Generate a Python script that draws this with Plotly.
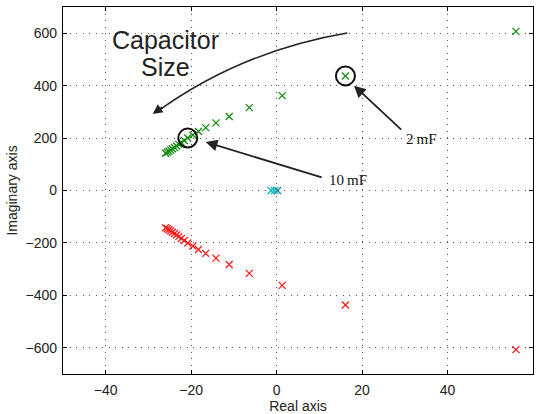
import plotly.graph_objects as go

# Closed-loop poles as the capacitor is swept (real part, imaginary part)
green_re = [56.0, 16.1, 1.3, -6.4, -11.1, -14.2, -16.6, -18.3, -19.6, -20.8,
            -21.6, -22.3, -22.9, -23.4, -23.9, -24.4, -24.8, -25.2, -25.6, -26.0]
green_im = [607, 437, 362, 316, 282, 258, 240, 225, 212, 200,
            191, 183, 176, 170, 164, 159, 154, 150, 146, 142]

red_re = [56.0, 16.1, 1.3, -6.4, -11.1, -14.2, -16.6, -18.3, -19.6, -20.8,
          -21.6, -22.3, -22.9, -23.4, -23.9, -24.4, -24.8, -25.2, -25.6, -26.0]
red_im = [-607, -437, -362, -316, -282, -258, -240, -225, -212, -200,
          -191, -183, -176, -170, -164, -159, -154, -150, -146, -142]

cyan_re = [-1.3, -0.5]
cyan_im = [0, 0]
teal_re = [0.2]
teal_im = [0]

# Highlighted capacitor values (indices into the green branch)
highlight_idx = [1, 9]
highlight_lbl = ["2\u2009mF", "10\u2009mF"]

x_ticks = [-40, -20, 0, 20, 40, 60]
y_ticks = [-600, -400, -200, 0, 200, 400, 600]

GREEN = "#148c14"
RED = "#ff1a1a"
CYAN = "#00bcbc"
TEAL = "#247f95"
FONT = "Liberation Sans, Arial, sans-serif"


def xmark(color):
    return dict(symbol="x-thin", size=7, line=dict(width=1.3, color=color), color=color)


fig = go.Figure()
fig.add_trace(go.Scatter(x=green_re, y=green_im, mode="markers", marker=xmark(GREEN)))
fig.add_trace(go.Scatter(x=red_re, y=red_im, mode="markers", marker=xmark(RED)))
fig.add_trace(go.Scatter(x=cyan_re, y=cyan_im, mode="markers", marker=xmark(CYAN)))
fig.add_trace(go.Scatter(x=teal_re, y=teal_im, mode="markers", marker=xmark(TEAL)))

# Circles around the highlighted poles
fig.add_trace(go.Scatter(
    x=[green_re[i] for i in highlight_idx],
    y=[green_im[i] for i in highlight_idx],
    mode="markers",
    marker=dict(symbol="circle-open", size=19, line=dict(width=2, color="#111"), color="#111"),
))

# Curved "capacitor size" arrow
fig.add_shape(type="path", xref="x", yref="y",
              path="M 16.5,601 Q -8.4,532 -28.2,298",
              line=dict(color="#222", width=1.5))
fig.add_annotation(x=-29.0, y=292, ax=11, ay=-8, xref="x", yref="y", text="",
                   showarrow=True, arrowhead=2, arrowsize=1.3, arrowwidth=1.5,
                   arrowcolor="#222", standoff=0)
fig.add_annotation(x=-26.1, y=574, xref="x", yref="y", text="Capacitor",
                   showarrow=False, font=dict(family=FONT, size=25, color="#222"))
fig.add_annotation(x=-26.1, y=471, xref="x", yref="y", text="Size",
                   showarrow=False, font=dict(family=FONT, size=25, color="#222"))

# Straight pointer arrows with labels
arrow_tails = [(29.5, 227), (10.9, 48)]
arrow_tips = [(18.1, 400), (-16.6, 185)]
label_pos = [(33.8, 196), (16.8, 40)]
for (tx, ty), (hx, hy), (lx, ly), lbl in zip(arrow_tails, arrow_tips, label_pos, highlight_lbl):
    fig.add_annotation(x=hx, y=hy, ax=tx, ay=ty, xref="x", yref="y", axref="x", ayref="y",
                       text="", showarrow=True, arrowhead=2, arrowsize=1.3, arrowwidth=1.8,
                       arrowcolor="#222", standoff=0)
    fig.add_annotation(x=lx, y=ly, xref="x", yref="y", text=lbl, showarrow=False,
                       xanchor="center", yanchor="middle",
                       font=dict(family="Liberation Serif, serif", size=15, color="#111"))

axis_common = dict(
    showline=True, linecolor="black", linewidth=1.2, mirror="allticks",
    ticks="inside", ticklen=4, tickcolor="black", tickwidth=1,
    showgrid=True, gridcolor="#555", gridwidth=1, griddash="1px,5.5px",
    zeroline=False, automargin=False,
    tickfont=dict(family=FONT, size=14, color="#222"),
)

fig.update_xaxes(range=[-50, 60], tickvals=x_ticks, ticklabelstandoff=3,
                 title=dict(text="Real axis", font=dict(family=FONT, size=14, color="#222"), standoff=3),
                 **axis_common)
fig.update_yaxes(range=[-700, 700], tickvals=y_ticks, ticklabelstandoff=2,
                 title=dict(text="Imaginary axis", font=dict(family=FONT, size=14, color="#222"), standoff=4),
                 **axis_common)

fig.update_layout(
    width=539, height=414,
    margin=dict(l=63, r=6, t=7, b=40),
    paper_bgcolor="white", plot_bgcolor="white",
    showlegend=False,
)

fig.write_html("out.html")
